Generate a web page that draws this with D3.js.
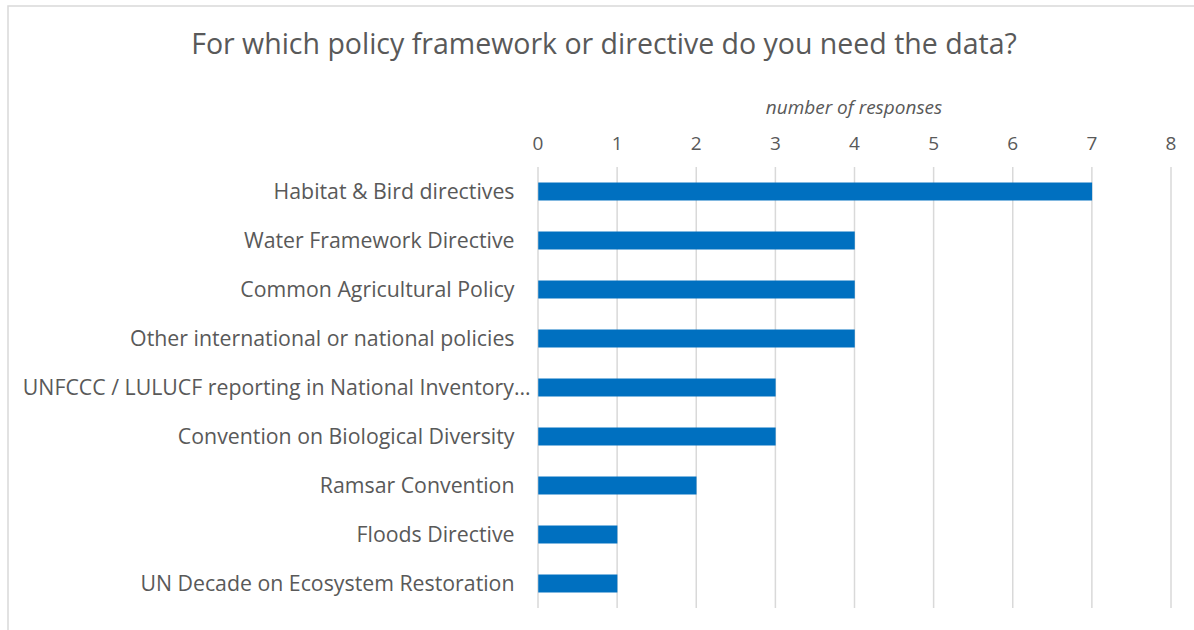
<!DOCTYPE html>
<html>
<head>
<meta charset="utf-8">
<script src="https://cdn.jsdelivr.net/npm/d3@7"></script>
<style>
  html, body { margin: 0; padding: 0; background: #fff; }
  svg { display: block; font-family: "Open Sans", "Noto Sans", sans-serif; }
</style>
</head>
<body>
<svg id="chart"></svg>
<script>
// Données du graphique
const categories = [
  "Habitat & Bird directives",
  "Water Framework Directive",
  "Common Agricultural Policy",
  "Other international or national policies",
  "UNFCCC / LULUCF reporting in National Inventory…",
  "Convention on Biological Diversity",
  "Ramsar Convention",
  "Floods Directive",
  "UN Decade on Ecosystem Restoration"
];
const responses = [7, 4, 4, 4, 3, 3, 2, 1, 1];
const tickValues = [0, 1, 2, 3, 4, 5, 6, 7, 8];
const title = "For which policy framework or directive do you need the data?";
const axisTitle = "number of responses";

const width = 1194, height = 630;
const svg = d3.select("#chart").attr("width", width).attr("height", height);

// Cadre du graphique (coupé à droite et en bas)
svg.append("rect")
  .attr("x", 8).attr("y", 6)
  .attr("width", width).attr("height", height)
  .attr("fill", "#fff")
  .attr("stroke", "#d9d9d9")
  .attr("stroke-width", 1.5);

// Échelles
const x = d3.scaleLinear().domain([0, 8]).range([537.5, 1170.5]);
const y = d3.scaleBand().domain(categories).range([167, 608])
  .paddingInner(0.633).paddingOuter(0.3165);

// Titre
svg.append("text")
  .attr("x", 604).attr("y", 54)
  .attr("text-anchor", "middle")
  .attr("fill", "#595959")
  .attr("font-size", 28.5)
  .text(title);

// Titre de l'axe
svg.append("text")
  .attr("x", 854).attr("y", 114)
  .attr("text-anchor", "middle")
  .attr("fill", "#595959")
  .attr("font-size", 19)
  .attr("font-style", "italic")
  .text(axisTitle);

// Axe du haut avec grille
const axis = svg.append("g")
  .attr("transform", "translate(0,167)")
  .call(d3.axisTop(x).tickValues(tickValues).tickSize(-(608 - 167)).tickPadding(17));
axis.select(".domain").remove();
axis.selectAll(".tick line").attr("stroke", "#d9d9d9").attr("stroke-width", 1.5);
axis.selectAll(".tick text")
  .attr("fill", "#595959")
  .attr("font-size", 19)
  .attr("font-family", "'Open Sans', sans-serif");

// Barres
svg.append("g").selectAll("rect")
  .data(categories)
  .join("rect")
  .attr("x", x(0) + 0.75)
  .attr("y", d => y(d))
  .attr("width", (d, i) => x(responses[i]) - x(0))
  .attr("height", y.bandwidth())
  .attr("fill", "#0070c0");

// Libellés des catégories (le libellé tronqué déborde un peu vers la droite)
svg.append("g").selectAll("text")
  .data(categories)
  .join("text")
  .attr("x", d => d.endsWith("…") ? x(0) - 7 : x(0) - 23)
  .attr("y", d => y(d) + y.bandwidth() / 2)
  .attr("dy", "0.35em")
  .attr("text-anchor", "end")
  .attr("fill", "#595959")
  .attr("font-size", 21.3)
  .text(d => d);
</script>
</body>
</html>
